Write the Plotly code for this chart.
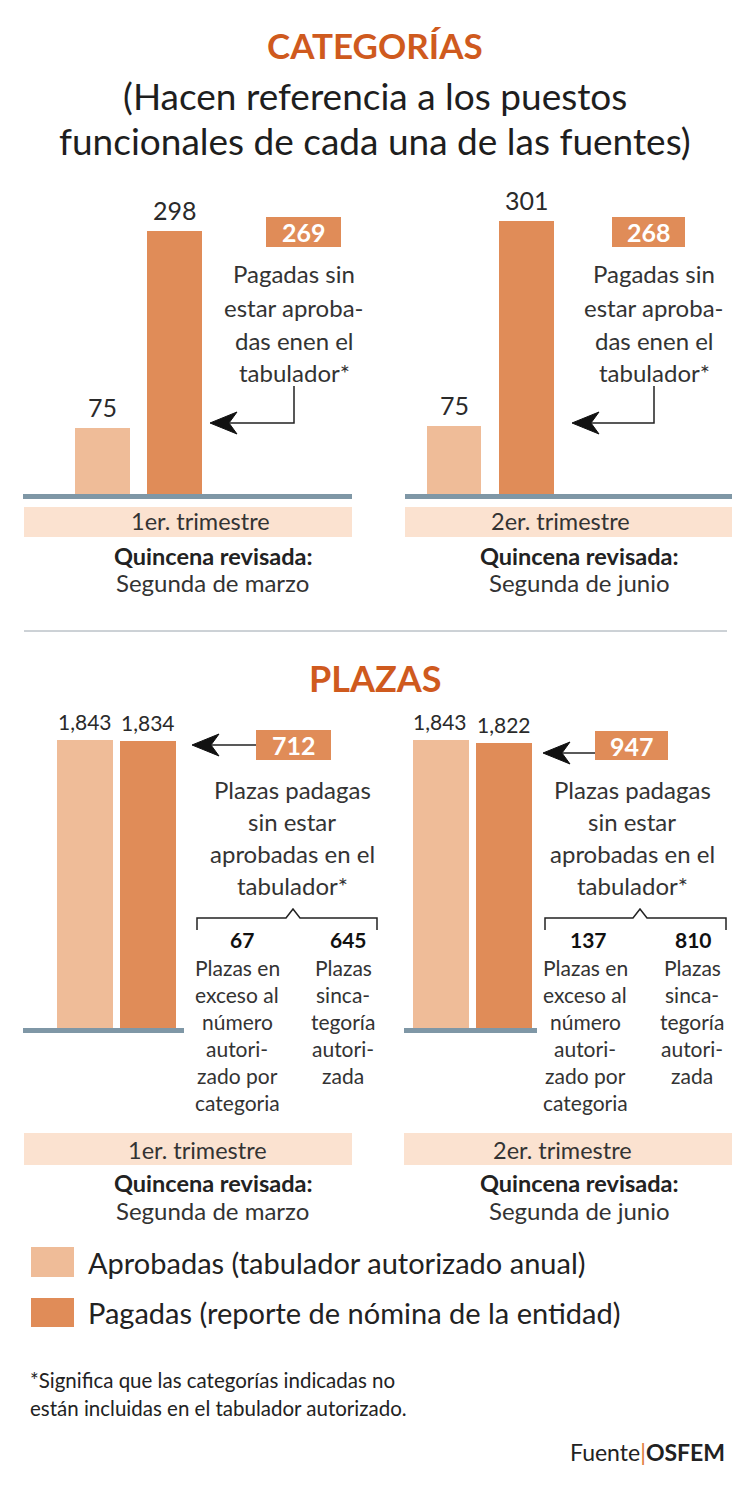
import plotly.graph_objects as go

W, H = 750, 1488
def X(px): return px / W
def Y(py): return 1 - py / H

# ---------------- data ----------------
series_names = ["Aprobadas (tabulador autorizado anual)",
                "Pagadas (reporte de nómina de la entidad)"]
cat_q1 = [75, 298]
cat_q2 = [75, 301]
pla_q1 = [1843, 1834]
pla_q2 = [1843, 1822]
cat_unapproved = [269, 268]
pla_unapproved = [712, 947]
pla_exceso = [67, 137]
pla_sincat = [645, 810]
periods = ["1er. trimestre", "2er. trimestre"]
quincenas = ["Segunda de marzo", "Segunda de junio"]

# ---------------- style ----------------
FONT = "Lato"
LIGHT = "#efbc98"
DARK = "#e08c58"
TITLE = "#cf5a1e"
BAND = "#fbe2d0"
BASE = "#7f97a6"
TXT = "#2a2a2a"

panels = [
    dict(vals=cat_q1, xdom=(23, 352), c0=102.5, u=72, bw=55, base=494, top=200, k=0.8826, lab=25),
    dict(vals=cat_q2, xdom=(405, 732), c0=454, u=72.5, bw=54.5, base=494, top=200, k=0.907, lab=25),
    dict(vals=pla_q1, xdom=(23, 184), c0=85, u=63, bw=56, base=1028, top=700, k=0.1563, lab=21),
    dict(vals=pla_q2, xdom=(404, 537), c0=440.5, u=63.5, bw=56, base=1028, top=700, k=0.1563, lab=21),
]

fig = go.Figure()
layout = dict(width=W, height=H, margin=dict(l=0, r=0, t=0, b=0),
              paper_bgcolor="white", plot_bgcolor="rgba(0,0,0,0)",
              showlegend=False, bargap=0)
annotations = []
shapes = []

def ann(text, x, y, size, color=TXT, xanchor="center", yanchor="middle"):
    annotations.append(dict(text=text, x=X(x), y=Y(y), xref="paper", yref="paper",
                            showarrow=False, xanchor=xanchor, yanchor=yanchor,
                            font=dict(family=FONT, size=size, color=color)))

def rect(x0, y0, x1, y1, color):
    shapes.append(dict(type="rect", xref="paper", yref="paper",
                       x0=X(x0), x1=X(x1), y0=Y(y1), y1=Y(y0),
                       fillcolor=color, line=dict(width=0), layer="below"))

def line(x0, y0, x1, y1, color="#222", width=1.5):
    shapes.append(dict(type="line", xref="paper", yref="paper",
                       x0=X(x0), x1=X(x1), y0=Y(y0), y1=Y(y1),
                       line=dict(color=color, width=width)))

def path(points, color="#222", fill=None, width=1.5, close=False):
    d = "M " + " L ".join(f"{X(px):.5f},{Y(py):.5f}" for px, py in points)
    if close:
        d += " Z"
    shapes.append(dict(type="path", xref="paper", yref="paper", path=d,
                       line=dict(color=color, width=width),
                       fillcolor=fill if fill else "rgba(0,0,0,0)"))

def arrowhead(tx, ty):
    path([(tx, ty), (tx + 27, ty - 11), (tx + 19, ty), (tx + 27, ty + 11)],
         color="#111", fill="#111", width=1, close=True)

# ---------------- bar panels ----------------
for n, p in enumerate(panels, start=1):
    a, b = p["xdom"]
    xa = "xaxis" if n == 1 else f"xaxis{n}"
    ya = "yaxis" if n == 1 else f"yaxis{n}"
    xr = "x" if n == 1 else f"x{n}"
    yr = "y" if n == 1 else f"y{n}"
    layout[xa] = dict(domain=[X(a), X(b)], range=[(a - p["c0"]) / p["u"], (b - p["c0"]) / p["u"]],
                      visible=False, anchor=yr, fixedrange=True)
    layout[ya] = dict(domain=[Y(p["base"]), Y(p["top"])], range=[0, (p["base"] - p["top"]) / p["k"]],
                      visible=False, anchor=xr, fixedrange=True)
    fig.add_trace(go.Bar(x=[0, 1], y=p["vals"], width=p["bw"] / p["u"],
                         marker=dict(color=[LIGHT, DARK], line=dict(width=0)),
                         xaxis=xr, yaxis=yr, hoverinfo="skip"))
    for i, v in enumerate(p["vals"]):
        annotations.append(dict(text=f"{v:,}", x=i, y=v, xref=xr, yref=yr, showarrow=False,
                                xanchor="center", yanchor="bottom", yshift=4,
                                font=dict(family=FONT, size=p["lab"], color=TXT)))
    # baseline
    rect(a, p["base"], b, p["base"] + 5, BASE)

# ---------------- titles ----------------
ann("<b>CATEGORÍAS</b>", 375, 45, 35, TITLE)
ann("(Hacen referencia a los puestos", 375, 95, 37, "#1e1e1e")
ann("funcionales de cada una de las fuentes)", 375, 140, 37, "#1e1e1e")
ann("<b>PLAZAS</b>", 375, 678, 36, TITLE)
line(24, 631, 727, 631, color="#9aa4ad", width=1)

# ---------------- period bands ----------------
bands = [((24, 352), 507, 537, 200, 213, 521, 556, 582),
         ((405, 732), 507, 537, 560, 579, 521, 556, 582),
         ((24, 352), 1133, 1165, 197, 213, 1150, 1183, 1210),
         ((404, 732), 1133, 1165, 562, 579, 1150, 1183, 1210)]
for j, (xs, y0, y1, tx, qx, ty, qy, sy) in enumerate(bands):
    rect(xs[0], y0, xs[1], y1, BAND)
    ann(periods[j % 2], tx, ty, 23.5, "#333")
    ann("<b>Quincena revisada:</b>", qx, qy, 23.5, "#222")
    ann(quincenas[j % 2], qx, sy, 24, "#333")

# ---------------- categorías callouts ----------------
cat_callout = [(266, 341, 294, 210), (612, 685, 654, 572)]
for j, (bx0, bx1, cx, tip) in enumerate(cat_callout):
    rect(bx0, 217, bx1, 247, DARK)
    ann(f"<b>{cat_unapproved[j]}</b>", (bx0 + bx1) / 2, 232, 25, "white")
    for t, yy in zip(["Pagadas sin", "estar aproba-", "das enen el", "tabulador*"],
                     [273, 307, 340, 372]):
        ann(t, cx, yy, 24, "#333")
    path([(cx, 386), (cx, 423), (tip + 20, 423)], color="#222", width=1.5)
    arrowhead(tip, 423)

# ---------------- plazas callouts ----------------
pla_callout = [dict(bx=(256, 331), by=(730, 760), cx=292, tip=192, ay=745,
                    br=(197, 377), peak=293, lc=237, rc=343, nl=242, nr=348),
               dict(bx=(595, 668), by=(731, 760), cx=632, tip=543, ay=753,
                    br=(545, 726), peak=640, lc=585, rc=692, nl=588, nr=693)]
for j, c in enumerate(pla_callout):
    rect(c["bx"][0], c["by"][0], c["bx"][1], c["by"][1], DARK)
    ann(f"<b>{pla_unapproved[j]}</b>", sum(c["bx"]) / 2, sum(c["by"]) / 2, 25, "white")
    path([(c["bx"][0], c["ay"]), (c["tip"] + 20, c["ay"])], color="#222", width=1.5)
    arrowhead(c["tip"], c["ay"])
    for t, yy in zip(["Plazas padagas", "sin estar", "aprobadas en el", "tabulador*"],
                     [789, 822, 853, 885]):
        ann(t, c["cx"], yy, 24, "#333")
    l, r = c["br"]
    path([(l, 930), (l, 918), (c["peak"] - 7, 918), (c["peak"], 909),
          (c["peak"] + 7, 918), (r, 918), (r, 930)], color="#222", width=1.5)
    ann(f"<b>{pla_exceso[j]}</b>", c["nl"], 939, 21, "#111")
    ann(f"<b>{pla_sincat[j]}</b>", c["nr"], 939, 21, "#111")
    for t, yy in zip(["Plazas en", "exceso al", "número", "autori-", "zado por", "categoria"],
                     [967, 994, 1021, 1048, 1075, 1102]):
        ann(t, c["lc"], yy, 21, "#333")
    for t, yy in zip(["Plazas", "sinca-", "tegoría", "autori-", "zada"],
                     [967, 994, 1021, 1048, 1075]):
        ann(t, c["rc"], yy, 21, "#333")

# ---------------- legend ----------------
rect(31, 1247, 74, 1277, LIGHT)
rect(31, 1298, 74, 1327, DARK)
ann(series_names[0], 86, 1262, 29, "#222", xanchor="left")
ann(series_names[1], 86, 1312, 29, "#222", xanchor="left")

# ---------------- footnote & source ----------------
ann("*Significa que las categorías indicadas no", 28, 1380, 20.5, "#222", xanchor="left")
ann("están incluidas en el tabulador autorizado.", 28, 1408, 20.5, "#222", xanchor="left")
ann("Fuente<span style='color:#e07a3a'>|</span><b>OSFEM</b>", 727, 1452, 23, "#222", xanchor="right")

layout["annotations"] = annotations
layout["shapes"] = shapes
fig.update_layout(**layout)
fig.write_html("out.html", config={"displayModeBar": False})
